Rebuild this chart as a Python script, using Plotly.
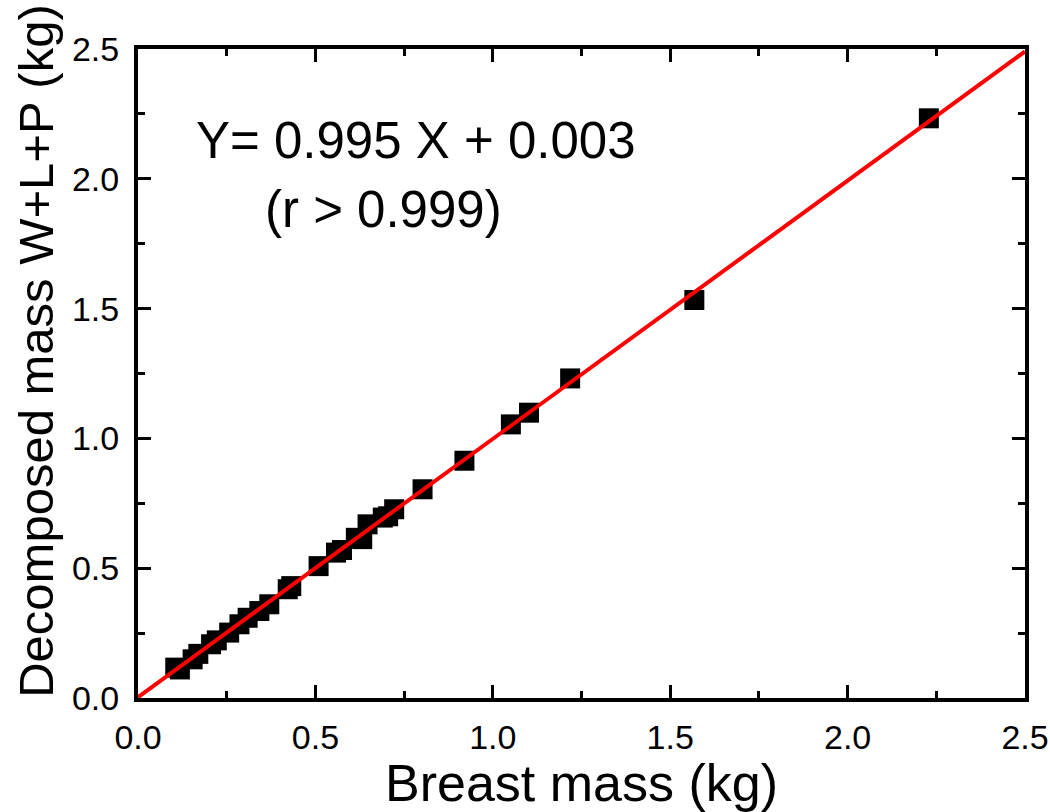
import plotly.graph_objects as go

# Data
breast_mass = [0.105, 0.118, 0.154, 0.170, 0.206, 0.222, 0.257, 0.286, 0.309, 0.342,
               0.370, 0.422, 0.432, 0.509, 0.558, 0.575, 0.614, 0.632, 0.647, 0.690,
               0.705, 0.722, 0.802, 0.920, 1.051, 1.102, 1.218, 1.568, 2.229]
decomposed_mass = [0.117, 0.110, 0.149, 0.170, 0.207, 0.222, 0.252, 0.284, 0.309, 0.335,
                   0.361, 0.419, 0.431, 0.508, 0.560, 0.570, 0.617, 0.612, 0.669, 0.695,
                   0.700, 0.727, 0.804, 0.914, 1.054, 1.099, 1.231, 1.533, 2.233]

fit_slope = 0.995
fit_intercept = 0.003
fit_x = [0.0, 2.5]
fit_y = [fit_slope * v + fit_intercept for v in fit_x]

tick_vals = [0.0, 0.5, 1.0, 1.5, 2.0, 2.5]
tick_text = ["0.0", "0.5", "1.0", "1.5", "2.0", "2.5"]

FONT = "Arial, Liberation Sans, Helvetica, sans-serif"

fig = go.Figure()
fig.add_trace(go.Scatter(
    x=breast_mass, y=decomposed_mass, mode="markers",
    marker=dict(symbol="square", size=20, color="#000000", line=dict(width=0)),
    showlegend=False, cliponaxis=False,
))
fig.add_trace(go.Scatter(
    x=fit_x, y=fit_y, mode="lines",
    line=dict(color="#ff0000", width=4),
    showlegend=False, cliponaxis=False,
))

axis_common = dict(
    range=[0, 2.5],
    tickvals=tick_vals, ticktext=tick_text,
    showgrid=False, zeroline=False,
    showline=True, linecolor="#000000", linewidth=4,
    mirror="ticks",
    ticks="inside", ticklen=13, tickwidth=3, tickcolor="#000000",
    minor=dict(ticks="inside", ticklen=7, tickwidth=3, tickcolor="#000000",
               dtick=0.25, showgrid=False),
    tickfont=dict(family=FONT, size=34, color="#000000"),
)

fig.update_xaxes(**axis_common,
                 title=dict(text="Breast mass (kg)",
                            font=dict(family=FONT, size=52, color="#000000"),
                            standoff=2),
                 ticklabelstandoff=6)
fig.update_yaxes(**axis_common, ticklabelstandoff=8)

# y-axis title as a rotated annotation so it can sit where the reference has it
fig.add_annotation(x=-0.115, y=0.535, xref="paper", yref="paper",
                   text="Decomposed mass W+L+P (kg)", textangle=-90,
                   showarrow=False,
                   font=dict(family=FONT, size=49, color="#000000"),
                   xanchor="center", yanchor="middle")

fig.add_annotation(x=0.784, y=2.149, xref="x", yref="y",
                   text="Y= 0.995 X + 0.003", showarrow=False,
                   font=dict(family=FONT, size=51, color="#000000"),
                   xanchor="center", yanchor="middle")
fig.add_annotation(x=0.693, y=1.88, xref="x", yref="y",
                   text="(r > 0.999)", showarrow=False,
                   font=dict(family=FONT, size=51, color="#000000"),
                   xanchor="center", yanchor="middle")

fig.update_layout(
    width=1050, height=812,
    margin=dict(l=138, r=25, t=49, b=114, autoexpand=False),
    plot_bgcolor="#ffffff", paper_bgcolor="#ffffff",
    font=dict(family=FONT, color="#000000"),
)

# remove the browser's default 8px body margin so the figure fills the window
fig.write_html("out.html",
               config={"displayModeBar": False},
               post_script="document.body.style.margin='0px';"
                           "document.body.style.overflow='hidden';")
